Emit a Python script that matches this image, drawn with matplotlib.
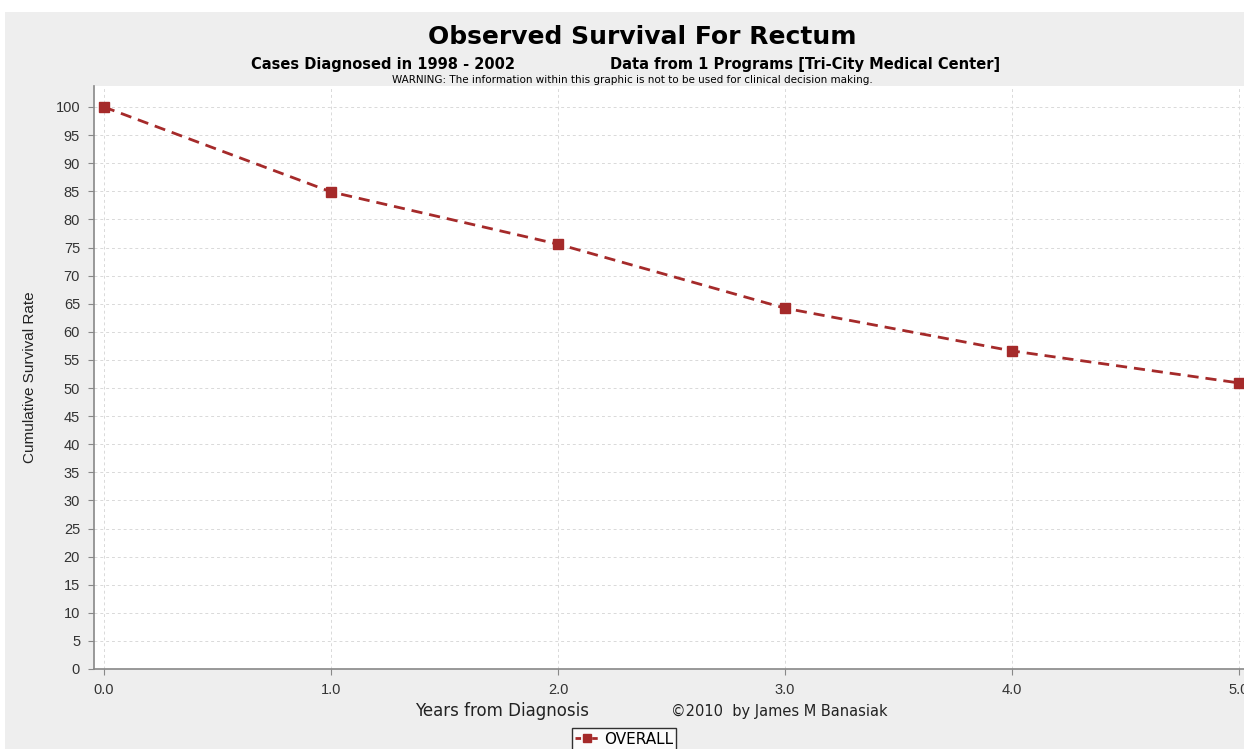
import matplotlib.pyplot as plt
from matplotlib.lines import Line2D

plt.rcParams['font.family'] = ['Liberation Sans', 'DejaVu Sans']

# ── Data ───────────────────────────────────────────────────────────────────
years = [0.0, 1.0, 2.0, 3.0, 4.0, 5.0]
survival = [100.0, 84.9, 75.6, 64.2, 56.6, 50.9]
x_ticks = [0.0, 1.0, 2.0, 3.0, 4.0, 5.0]
x_tick_labels = ["0.0", "1.0", "2.0", "3.0", "4.0", "5.0"]
y_ticks = list(range(0, 101, 5))

LINE_COLOR = "#a52a2a"
BG = "#eeeeee"
WIDE = ["DejaVu Sans"]

# ── Figure ─────────────────────────────────────────────────────────────────
W, H = 1244, 749
fig = plt.figure(figsize=(W / 100, H / 100), dpi=100)
fig.patch.set_facecolor("white")

# gray panel behind the chart
panel = plt.Rectangle((5 / W, 0), 1 - 5 / W, 1 - 12 / H, transform=fig.transFigure,
                      facecolor=BG, edgecolor="none", zorder=-10)
fig.patches.append(panel)

left, right, top, bottom = 94, 1244, 86, 669
ax = fig.add_axes([left / W, 1 - bottom / H, (right - left) / W, (bottom - top) / H])
ax.set_facecolor("white")

ax.plot(years, survival, color=LINE_COLOR, linestyle=(0, (4, 2.5)), linewidth=2,
        marker="s", markersize=7, markerfacecolor=LINE_COLOR, markeredgecolor=LINE_COLOR,
        clip_on=False, zorder=3)

ax.set_xlim(-10 / 227, (right - 104) / 227)
ax.set_ylim(0, 100 + 21 / 5.62)
ax.set_xticks(x_ticks)
ax.set_xticklabels(x_tick_labels)
ax.set_yticks(y_ticks)
ax.tick_params(labelsize=10.5, colors="#333333", length=4, width=0.8, pad=6)
ax.tick_params(axis="both", color="#888888")

ax.grid(True, color="#d9d9d9", linestyle=(0, (3, 3)), linewidth=0.7)
ax.set_axisbelow(True)

for side in ["top", "right"]:
    ax.spines[side].set_visible(False)
for side in ["left", "bottom"]:
    ax.spines[side].set_color("#888888")
    ax.spines[side].set_linewidth(1.2)

ax.set_ylabel("Cumulative Survival Rate", fontsize=11, color="#222222")
ax.yaxis.set_label_coords(-57 / (right - left), 0.5)

# ── Titles ─────────────────────────────────────────────────────────────────
fig.text(642 / W, 1 - 37 / H, "Observed Survival For Rectum", ha="center", va="center",
         fontsize=18, fontweight="bold", family=WIDE)
fig.text(383 / W, 1 - 64 / H, "Cases Diagnosed in 1998 - 2002", ha="center", va="center",
         fontsize=10.5, fontweight="bold", family=WIDE)
fig.text(805 / W, 1 - 64 / H, "Data from 1 Programs [Tri-City Medical Center]", ha="center",
         va="center", fontsize=10.5, fontweight="bold", family=WIDE)
fig.text(632 / W, 1 - 80 / H,
         "WARNING: The information within this graphic is not to be used for clinical decision making.",
         ha="center", va="center", fontsize=7.5, family=WIDE)

fig.text(502 / W, 1 - 711 / H, "Years from Diagnosis", ha="center", va="center",
         fontsize=12, color="#222222", family=WIDE)
fig.text(779 / W, 1 - 711 / H, "\u00a92010  by James M Banasiak", ha="center", va="center",
         fontsize=10.5, color="#222222", family=WIDE)

handle = Line2D([], [], color=LINE_COLOR, linestyle=(0, (2, 1)), linewidth=2,
                marker="s", markersize=6)
leg = fig.legend([handle], ["OVERALL"], loc="center", bbox_to_anchor=(624 / W, 1 - 739 / H),
                 frameon=True, fancybox=False, handlelength=1.6,
                 handletextpad=0.3, borderpad=0.2, borderaxespad=0,
                 prop={"family": WIDE, "size": 11})
leg.get_frame().set_edgecolor("black")
leg.get_frame().set_linewidth(1)

fig.savefig("out.png", dpi=100, facecolor=fig.get_facecolor())
